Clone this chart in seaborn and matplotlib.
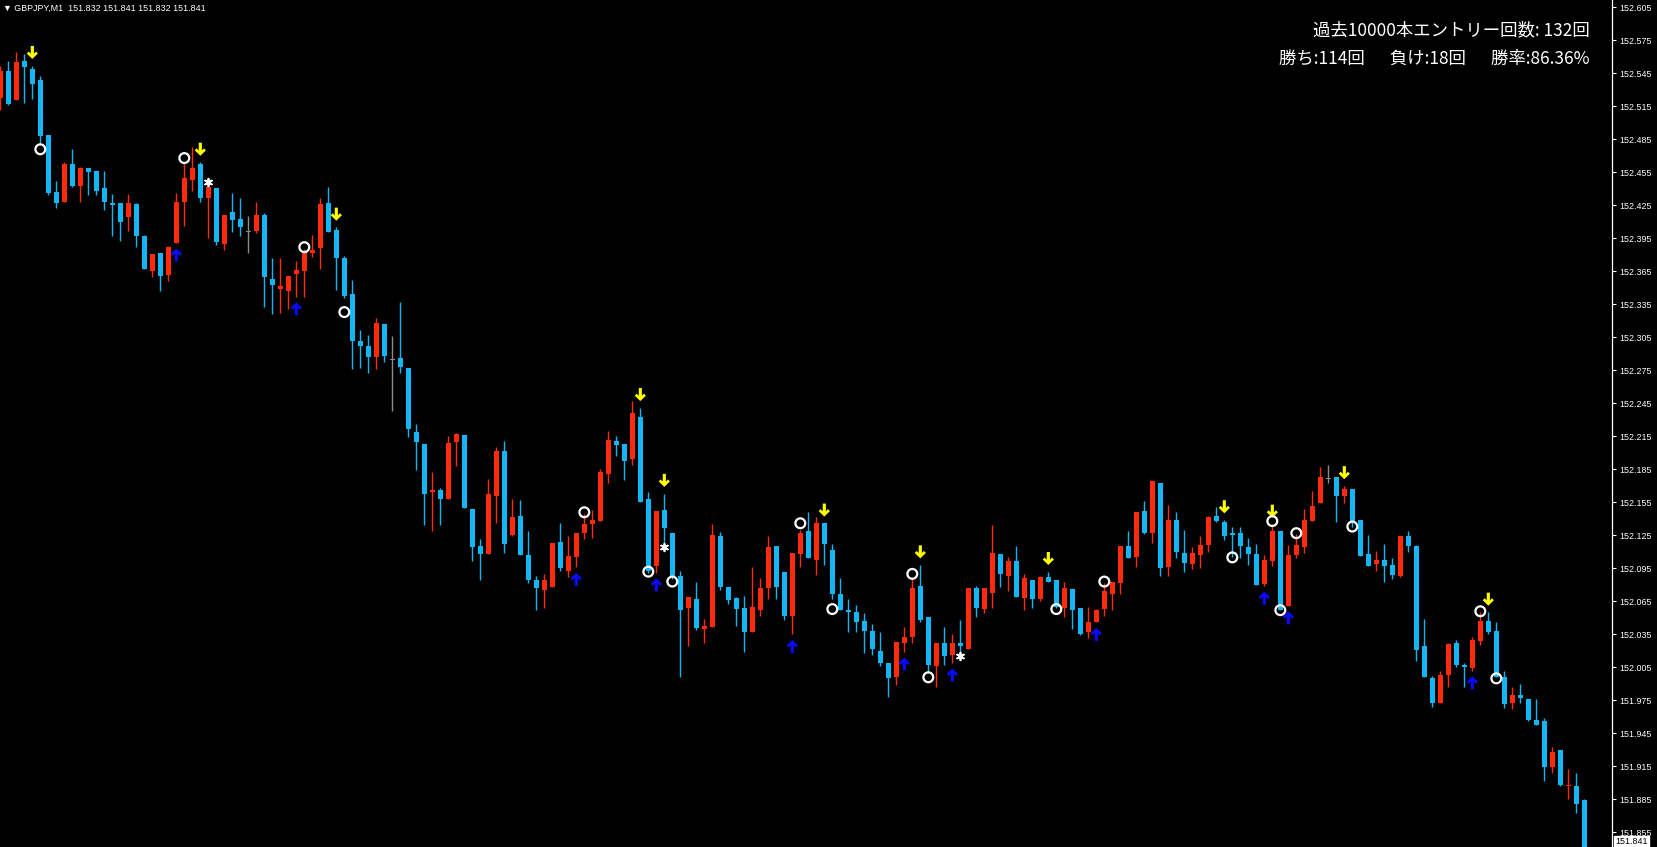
import numpy as np
import pandas as pd
import matplotlib
matplotlib.use("Agg")
import matplotlib.pyplot as plt
from matplotlib.path import Path
import seaborn as sns

# --- DATA (GBPJPY M1) ---
OPEN = [
    152.523, 152.547, 152.521, 152.556, 152.549, 152.539, 152.489, 152.437, 152.428, 152.463,
    152.443, 152.459, 152.456, 152.441, 152.427, 152.427, 152.414, 152.426, 152.397, 152.365,
    152.382, 152.362, 152.391, 152.428, 152.448, 152.463, 152.432, 152.441, 152.390, 152.419,
    152.413, 152.401, 152.402, 152.416, 152.358, 152.349, 152.347, 152.363, 152.365, 152.382,
    152.386, 152.427, 152.403, 152.377, 152.344, 152.302, 152.297, 152.287, 152.317, 152.285,
    152.286, 152.277, 152.219, 152.208, 152.164, 152.166, 152.158, 152.210, 152.216, 152.149,
    152.115, 152.108, 152.161, 152.202, 152.125, 152.143, 152.107, 152.084, 152.075, 152.078,
    152.119, 152.093, 152.105, 152.127, 152.135, 152.138, 152.181, 152.211, 152.208, 152.194,
    152.233, 152.158, 152.097, 152.148, 152.127, 152.088, 152.059, 152.067, 152.040, 152.042,
    152.124, 152.078, 152.068, 152.059, 152.037, 152.057, 152.077, 152.115, 152.092, 152.052,
    152.108, 152.129, 152.103, 152.136, 152.112, 152.072, 152.057, 152.055, 152.047, 152.038,
    152.020, 152.009, 151.996, 152.027, 152.033, 152.079, 152.051, 152.006, 152.027, 152.016,
    152.027, 152.022, 152.077, 152.058, 152.073, 152.108, 152.088, 152.102, 152.068, 152.084,
    152.067, 152.087, 152.084, 152.059, 152.076, 152.059, 152.037, 152.046, 152.058, 152.072,
    152.082, 152.115, 152.105, 152.147, 152.127, 152.173, 152.096, 152.139, 152.109, 152.099,
    152.107, 152.116, 152.143, 152.137, 152.127, 152.127, 152.114, 152.108, 152.081, 152.102,
    152.129, 152.061, 152.107, 152.114, 152.138, 152.154, 152.177, 152.178, 152.161, 152.167,
    152.139, 152.108, 152.099, 152.103, 152.098, 152.088, 152.124, 152.115, 152.024, 151.995,
    151.973, 151.998, 152.027, 152.007, 152.004, 152.029, 152.047, 152.038, 151.996, 151.973,
    151.980, 151.976, 151.957, 151.956, 151.914, 151.930, 151.897, 151.897, 151.884,
]
HIGH = [
    152.552, 152.556, 152.564, 152.563, 152.552, 152.543, 152.489, 152.447, 152.464, 152.476,
    152.460, 152.459, 152.456, 152.456, 152.435, 152.427, 152.435, 152.427, 152.398, 152.381,
    152.382, 152.388, 152.436, 152.464, 152.478, 152.464, 152.443, 152.441, 152.416, 152.436,
    152.432, 152.415, 152.428, 152.418, 152.377, 152.377, 152.361, 152.374, 152.385, 152.398,
    152.432, 152.442, 152.405, 152.379, 152.357, 152.312, 152.307, 152.323, 152.317, 152.306,
    152.337, 152.277, 152.226, 152.208, 152.183, 152.168, 152.215, 152.218, 152.216, 152.149,
    152.122, 152.176, 152.205, 152.211, 152.158, 152.157, 152.129, 152.088, 152.090, 152.118,
    152.136, 152.124, 152.127, 152.144, 152.148, 152.185, 152.220, 152.215, 152.208, 152.247,
    152.241, 152.164, 152.147, 152.163, 152.127, 152.093, 152.069, 152.083, 152.049, 152.135,
    152.128, 152.078, 152.069, 152.070, 152.096, 152.086, 152.124, 152.115, 152.092, 152.109,
    152.130, 152.146, 152.142, 152.136, 152.117, 152.086, 152.067, 152.062, 152.054, 152.044,
    152.037, 152.009, 152.028, 152.042, 152.085, 152.098, 152.051, 152.027, 152.042, 152.035,
    152.048, 152.077, 152.079, 152.077, 152.134, 152.108, 152.105, 152.115, 152.090, 152.084,
    152.088, 152.092, 152.084, 152.083, 152.076, 152.059, 152.060, 152.058, 152.082, 152.083,
    152.115, 152.129, 152.146, 152.156, 152.174, 152.173, 152.153, 152.146, 152.130, 152.114,
    152.124, 152.143, 152.151, 152.139, 152.133, 152.133, 152.123, 152.117, 152.107, 152.135,
    152.129, 152.116, 152.126, 152.149, 152.165, 152.187, 152.189, 152.178, 152.170, 152.167,
    152.139, 152.125, 152.111, 152.117, 152.104, 152.124, 152.129, 152.116, 152.049, 151.997,
    152.002, 152.027, 152.030, 152.009, 152.033, 152.055, 152.055, 152.046, 152.002, 151.987,
    151.990, 151.976, 151.976, 151.959, 151.933, 151.930, 151.913, 151.909, 151.885,
]
LOW = [
    152.512, 152.516, 152.521, 152.518, 152.522, 152.482, 152.434, 152.423, 152.428, 152.442,
    152.428, 152.434, 152.434, 152.421, 152.397, 152.393, 152.402, 152.387, 152.367, 152.360,
    152.347, 152.356, 152.391, 152.406, 152.438, 152.428, 152.395, 152.389, 152.384, 152.401,
    152.397, 152.382, 152.400, 152.333, 152.326, 152.327, 152.331, 152.342, 152.342, 152.378,
    152.367, 152.401, 152.348, 152.341, 152.276, 152.277, 152.273, 152.276, 152.283, 152.238,
    152.273, 152.214, 152.184, 152.134, 152.129, 152.134, 152.158, 152.188, 152.150, 152.102,
    152.084, 152.108, 152.136, 152.109, 152.124, 152.107, 152.082, 152.057, 152.059, 152.078,
    152.093, 152.087, 152.096, 152.122, 152.123, 152.138, 152.173, 152.197, 152.175, 152.189,
    152.155, 152.091, 152.091, 152.115, 152.085, 151.996, 152.024, 152.039, 152.027, 152.042,
    152.075, 152.063, 152.043, 152.019, 152.037, 152.052, 152.067, 152.067, 152.048, 152.035,
    152.096, 152.104, 152.089, 152.098, 152.067, 152.057, 152.037, 152.037, 152.018, 152.016,
    152.006, 151.978, 151.989, 152.019, 152.027, 152.046, 152.000, 151.987, 152.007, 152.009,
    152.015, 152.022, 152.051, 152.054, 152.059, 152.078, 152.074, 152.069, 152.057, 152.059,
    152.065, 152.083, 152.059, 152.051, 152.040, 152.034, 152.032, 152.046, 152.052, 152.057,
    152.072, 152.104, 152.096, 152.126, 152.118, 152.088, 152.088, 152.104, 152.092, 152.094,
    152.095, 152.110, 152.137, 152.121, 152.105, 152.104, 152.098, 152.080, 152.079, 152.097,
    152.057, 152.061, 152.104, 152.109, 152.138, 152.154, 152.173, 152.137, 152.154, 152.133,
    152.106, 152.097, 152.093, 152.083, 152.085, 152.087, 152.110, 152.011, 151.996, 151.969,
    151.973, 151.987, 152.005, 151.987, 152.002, 152.025, 152.035, 151.996, 151.968, 151.967,
    151.973, 151.956, 151.953, 151.902, 151.909, 151.897, 151.885, 151.873, 151.832,
]
CLOSE = [
    152.547, 152.517, 152.555, 152.551, 152.535, 152.488, 152.436, 152.427, 152.463, 152.443,
    152.459, 152.455, 152.438, 152.428, 152.425, 152.410, 152.427, 152.397, 152.367, 152.381,
    152.361, 152.387, 152.428, 152.450, 152.459, 152.432, 152.442, 152.392, 152.416, 152.412,
    152.405, 152.401, 152.416, 152.360, 152.353, 152.352, 152.361, 152.366, 152.383, 152.384,
    152.426, 152.401, 152.377, 152.343, 152.302, 152.297, 152.287, 152.318, 152.288, 152.285,
    152.278, 152.222, 152.210, 152.163, 152.166, 152.158, 152.209, 152.217, 152.150, 152.114,
    152.108, 152.163, 152.202, 152.117, 152.142, 152.107, 152.084, 152.077, 152.084, 152.118,
    152.095, 152.106, 152.127, 152.135, 152.139, 152.183, 152.212, 152.207, 152.193, 152.236,
    152.155, 152.093, 152.147, 152.132, 152.087, 152.057, 152.069, 152.041, 152.043, 152.125,
    152.078, 152.066, 152.058, 152.037, 152.060, 152.077, 152.114, 152.078, 152.052, 152.109,
    152.127, 152.104, 152.136, 152.117, 152.072, 152.057, 152.055, 152.046, 152.038, 152.022,
    152.009, 151.995, 152.028, 152.033, 152.077, 152.048, 152.007, 152.027, 152.015, 152.027,
    152.024, 152.077, 152.059, 152.077, 152.109, 152.090, 152.102, 152.069, 152.086, 152.067,
    152.087, 152.083, 152.060, 152.077, 152.057, 152.035, 152.046, 152.057, 152.074, 152.083,
    152.115, 152.104, 152.146, 152.127, 152.174, 152.095, 152.139, 152.110, 152.100, 152.109,
    152.116, 152.142, 152.138, 152.124, 152.125, 152.115, 152.108, 152.080, 152.103, 152.129,
    152.057, 152.107, 152.116, 152.139, 152.152, 152.178, 152.177, 152.161, 152.167, 152.138,
    152.106, 152.097, 152.103, 152.097, 152.089, 152.124, 152.115, 152.021, 151.996, 151.973,
    151.998, 152.026, 152.007, 152.005, 152.030, 152.047, 152.037, 151.996, 151.972, 151.980,
    151.977, 151.957, 151.953, 151.914, 151.928, 151.898, 151.898, 151.881, 151.835,
]

# signal bars
SELL_IDX = [4, 25, 42, 80, 83, 103, 115, 131, 153, 159, 168, 186]
BUY_IDX = [22, 37, 72, 82, 99, 113, 119, 137, 158, 161, 184]
CIRCLE_IDX = [5, 23, 38, 43, 73, 81, 84, 100, 104, 114,
              116, 132, 138, 154, 159, 160, 162, 169, 185, 187]
CIRCLE_PRICE = [152.476, 152.468, 152.387, 152.328, 152.146, 152.092, 152.083, 152.136, 152.058, 152.090,
                151.996, 152.058, 152.083, 152.105, 152.138, 152.057, 152.127, 152.133, 152.056, 151.995]
STAR_IDX = [26, 83, 120]
STAR_PRICE = [152.446, 152.114, 152.015]

PRICE_TICKS = [152.605, 152.575, 152.545, 152.515, 152.485, 152.455, 152.425, 152.395, 152.365,
               152.335, 152.305, 152.275, 152.245, 152.215, 152.185, 152.155, 152.125, 152.095,
               152.065, 152.035, 152.005, 151.975, 151.945, 151.915, 151.885, 151.855]
LAST_PRICE = 151.841

HEADER = "▼ GBPJPY,M1  151.832 151.841 151.832 151.841"
STATS_1 = "過去10000本エントリー回数: 132回"
STATS_2 = "勝ち:114回　  負け:18回　  勝率:86.36%"

# --- STYLE ---
BULL = "#ff2a0c"
BEAR = "#12b6f4"
DOJI = "#8c8c8c"
W, H = 1658, 847

sns.set_theme(style="dark", rc={"axes.facecolor": "black", "figure.facecolor": "black",
                                "axes.grid": False})
plt.rcParams["font.family"] = ["Liberation Sans", "DejaVu Sans"]
JP = ["Noto Sans CJK JP", "DejaVu Sans"]

df = pd.DataFrame({"open": OPEN, "high": HIGH, "low": LOW, "close": CLOSE})
df["i"] = np.arange(len(df))
df["color"] = np.where(df.close > df.open, BULL, np.where(df.close < df.open, BEAR, DOJI))
df["body"] = (df.close - df.open).abs().clip(lower=0.0012)
df["bottom"] = np.minimum(df.open, df.close)
df.loc[df.close == df.open, "bottom"] = df.open - 0.0006

fig = plt.figure(figsize=(W / 100, H / 100), dpi=100)
ax = fig.add_axes([0, 0, 1612 / W, 1])
ax.set_facecolor("black")

# candles: wicks then bodies
ax.vlines(df.i, df.low, df.high, colors=df.color, linewidth=1.0, zorder=2)
ax.bar(df.i, df.body, bottom=df.bottom, width=0.64, color=df.color, linewidth=0, zorder=3)

# bold chevron arrows, like the MT4 wingdings arrows
down = Path([(-0.24, 1.0), (0.24, 1.0), (0.24, -0.18), (0.55, 0.14), (0.86, -0.16),
             (0.0, -1.0), (-0.86, -0.16), (-0.55, 0.14), (-0.24, -0.18), (-0.24, 1.0)],
            closed=True)
up = Path([(x, -y) for x, y in down.vertices], closed=True)

sell_y = [HIGH[i] + 0.012 for i in SELL_IDX]
buy_y = [LOW[i] - 0.011 for i in BUY_IDX]
sns.scatterplot(x=SELL_IDX, y=sell_y, ax=ax, marker=down, s=88, color="#ffff00",
                edgecolor="none", linewidth=0, legend=False, zorder=5)
sns.scatterplot(x=BUY_IDX, y=buy_y, ax=ax, marker=up, s=88, color="#0a0aff",
                edgecolor="none", linewidth=0, legend=False, zorder=5)
sns.scatterplot(x=CIRCLE_IDX, y=CIRCLE_PRICE, ax=ax, marker="o", s=50, color="white",
                facecolors="none", edgecolor="white", linewidth=1.6, legend=False, zorder=5)
sns.scatterplot(x=STAR_IDX, y=STAR_PRICE, ax=ax, marker=(6, 2, 0), s=30, color="white",
                linewidth=1.3, legend=False, zorder=5)

# axes limits: 8 px per bar, price scale from the right axis
ax.set_xlim(-0.04, 201.46)
ax.set_ylim(151.8417, 152.6117)

for side in ["left", "top", "bottom"]:
    ax.spines[side].set_visible(False)
ax.spines["right"].set_color("white")
ax.spines["right"].set_linewidth(0.9)
ax.set_xticks([])
ax.yaxis.tick_right()
ax.set_yticks(PRICE_TICKS)
ax.set_yticklabels([f"{t:.3f}" for t in PRICE_TICKS])
ax.tick_params(axis="y", right=True, left=False, labelright=True, labelleft=False,
               colors="white", length=2.6, width=0.8, pad=2.5, labelsize=6.4, direction="out")

# current price box at the very bottom of the scale
fig.text(1615 / W, 1 / H, f"{LAST_PRICE:.3f}", ha="left", va="bottom", fontsize=6.4,
         color="black", bbox=dict(boxstyle="square,pad=0.12", fc="white", ec="white"))

# texts
fig.text(3 / W, 1 - 8 / H, HEADER, color="white", fontsize=6.4, ha="left", va="center")
fig.text(1590 / W, 1 - 30.5 / H, STATS_1, color="white", fontsize=12.5, ha="right",
         va="center", family=JP)
fig.text(1590 / W, 1 - 58.5 / H, STATS_2, color="white", fontsize=12.5, ha="right",
         va="center", family=JP)

fig.savefig("out.png", dpi=100, facecolor="black")
